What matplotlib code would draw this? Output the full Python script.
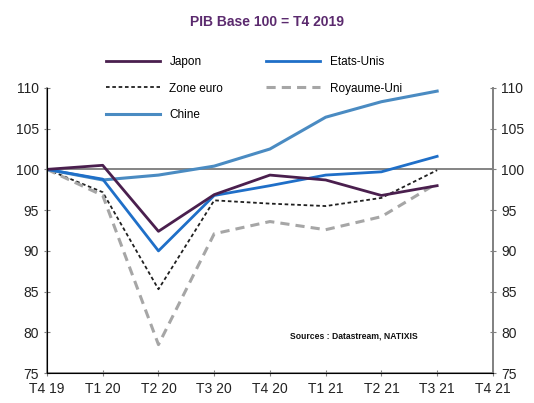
import matplotlib.pyplot as plt

plt.rcParams['font.family'] = ['Liberation Sans', 'DejaVu Sans']

quarters = ['T4 19', 'T1 20', 'T2 20', 'T3 20', 'T4 20', 'T1 21', 'T2 21', 'T3 21', 'T4 21']

# indices PIB, base 100 = T4 2019
japon = [100, 100.5, 92.4, 96.9, 99.3, 98.7, 96.8, 98.0]
etats_unis = [100, 98.8, 90.0, 96.8, 98.0, 99.3, 99.7, 101.6]
zone_euro = [100, 97.2, 85.3, 96.2, 95.8, 95.5, 96.5, 99.9]
royaume_uni = [100, 96.8, 78.5, 92.1, 93.6, 92.6, 94.2, 98.3]
chine = [100, 98.7, 99.3, 100.4, 102.5, 106.4, 108.3, 109.6]

x = list(range(len(japon)))

fig = plt.figure(figsize=(5.34, 4.03), dpi=100)
ax = fig.add_axes([0.088, 0.074, 0.835, 0.708])

ax.axhline(100, color='#707070', lw=1.2, zorder=1)

ax.plot(x, zone_euro, color='#202020', lw=1.3, ls=(0, (2, 1.5)), label='Zone euro', zorder=3)
ax.plot(x, royaume_uni, color='#a6a6a6', lw=2.2, ls=(0, (3, 2)), label='Royaume-Uni', zorder=3)
ax.plot(x, chine, color='#4a8bc2', lw=2.2, label='Chine', zorder=4)
ax.plot(x, etats_unis, color='#1f6fc8', lw=2.0, label='Etats-Unis', zorder=5)
ax.plot(x, japon, color='#4a1f4e', lw=2.0, label='Japon', zorder=6)

ax.set_xlim(0, len(quarters) - 1)
ax.set_ylim(75, 110)
ax.set_xticks(range(len(quarters)))
ax.set_xticklabels(quarters)
ax.set_yticks(range(75, 111, 5))

ax.spines['top'].set_visible(False)
for s in ['left', 'right', 'bottom']:
    ax.spines[s].set_color('#808080')
    ax.spines[s].set_linewidth(1.2)

ax.tick_params(axis='both', direction='inout', length=5, color='#808080',
               labelsize=10, labelcolor='#222222')
ax.tick_params(axis='x', pad=4)

ax2 = ax.twinx()
ax2.set_ylim(75, 110)
ax2.set_yticks(range(75, 111, 5))
ax2.spines['top'].set_visible(False)
ax2.spines['right'].set_color('#808080')
ax2.spines['right'].set_linewidth(1.2)
ax2.tick_params(axis='y', direction='inout', length=5, color='#808080',
                labelsize=10, labelcolor='#222222')

handles, labels = ax.get_legend_handles_labels()
hmap = dict(zip(labels, handles))
# ncol=2 fills column-wise, so reorder for row layout
col1 = ['Japon', 'Zone euro', 'Chine']
col2 = ['Etats-Unis', 'Royaume-Uni']
leg_labels = col1 + col2
fig.legend([hmap[l] for l in leg_labels], leg_labels, ncol=2, loc='upper left',
           bbox_to_anchor=(0.178, 0.888), frameon=False, fontsize=8.5,
           handlelength=4.6, columnspacing=3.6, labelspacing=1.25, handletextpad=0.8)

fig.text(0.5, 0.945, 'PIB Base 100 = T4 2019', ha='center', va='center',
         fontsize=10, fontweight='bold', color='#5b2a6e')
ax.text(0.832, 0.13, 'Sources : Datastream, NATIXIS', transform=ax.transAxes,
        ha='right', va='center', fontsize=6.2, fontweight='bold', color='#111111',
        family=['Liberation Sans Narrow', 'Liberation Sans', 'DejaVu Sans'])

fig.savefig('out.png', dpi=100)
